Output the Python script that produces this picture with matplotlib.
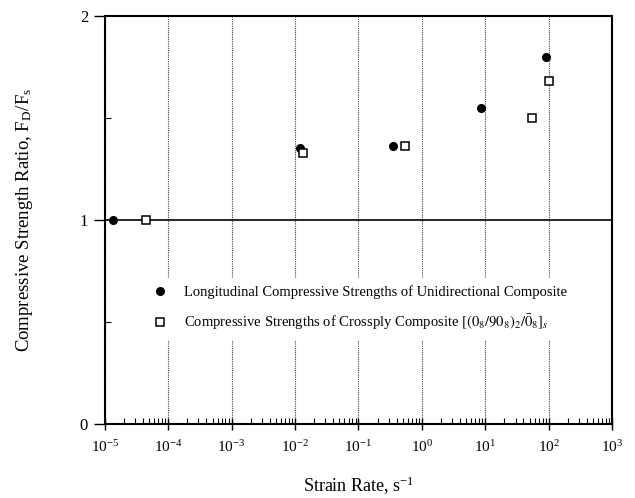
import matplotlib
matplotlib.use("Agg")
import matplotlib.pyplot as plt
import matplotlib.ticker as ticker

plt.rcParams['font.family'] = ['Liberation Serif', 'DejaVu Serif']
plt.rcParams['mathtext.fontset'] = 'stix'

# unidirectional (longitudinal) compressive strength ratios
uni_rate = [1.35e-5, 0.012, 0.35, 8.7, 90]
uni_ratio = [1.00, 1.35, 1.36, 1.55, 1.80]

# crossply compressive strength ratios
cross_rate = [4.5e-5, 0.0135, 0.55, 55, 102]
cross_ratio = [1.00, 1.33, 1.36, 1.50, 1.68]

uni_label = "Longitudinal Compressive Strengths of Unidirectional Composite"
cross_label = r"Compressive Strengths of Crossply Composite $[(0_8/90_8)_2/\bar{0}_8]_s$"

fig = plt.figure(figsize=(6.35, 4.98), dpi=100)
ax = fig.add_axes([0.165, 0.149, 0.799, 0.819])

ax.set_xscale('log')
ax.set_xlim(1e-5, 1e3)
ax.set_ylim(0, 2)

# dotted decade lines
ax.grid(True, which='major', axis='x', linestyle=(0, (1, 1)), color='#444444', linewidth=0.8)
ax.axhline(1.0, color='black', linewidth=1.2)

ax.plot(uni_rate, uni_ratio, 'o', color='black', markersize=5.5, label=uni_label, zorder=5)
ax.plot(cross_rate, cross_ratio, 's', markerfacecolor='white', markeredgecolor='black',
        markeredgewidth=1.1, markersize=6, label=cross_label, zorder=5)

ax.xaxis.set_major_locator(ticker.LogLocator(base=10, numticks=20))
ax.xaxis.set_minor_locator(ticker.LogLocator(base=10, subs=range(2, 10), numticks=20))
ax.xaxis.set_minor_formatter(ticker.NullFormatter())
ax.xaxis.set_major_formatter(ticker.LogFormatterMathtext())
ax.set_yticks([0, 1, 2])
ax.yaxis.set_minor_locator(ticker.MultipleLocator(0.5))

ax.tick_params(axis='x', which='major', direction='inout', length=8, width=1, labelsize=11, pad=7)
ax.tick_params(axis='x', which='minor', direction='in', length=4, width=0.8)
ax.tick_params(axis='y', which='major', direction='out', length=8, width=1, labelsize=12, pad=4)
ax.tick_params(axis='y', which='minor', direction='in', length=4, width=0.8)

for s in ax.spines.values():
    s.set_linewidth(1.5)

ax.set_xlabel(r"Strain Rate, s$^{\mathregular{-1}}$", fontsize=13, labelpad=14)
ax.set_ylabel(r"Compressive Strength Ratio, F$_{\mathregular{D}}$/F$_{\mathregular{s}}$", fontsize=13.5, labelpad=32)

leg = ax.legend(loc='upper left', bbox_to_anchor=(0.065, 0.375), frameon=True, fontsize=10.5,
                handletextpad=1.2, labelspacing=0.9, borderpad=0.5, handlelength=1.0)
leg.get_frame().set_edgecolor('white')
leg.get_frame().set_facecolor('white')
leg.get_frame().set_alpha(1.0)
leg.set_zorder(6)

fig.savefig("out.png", dpi=100)
